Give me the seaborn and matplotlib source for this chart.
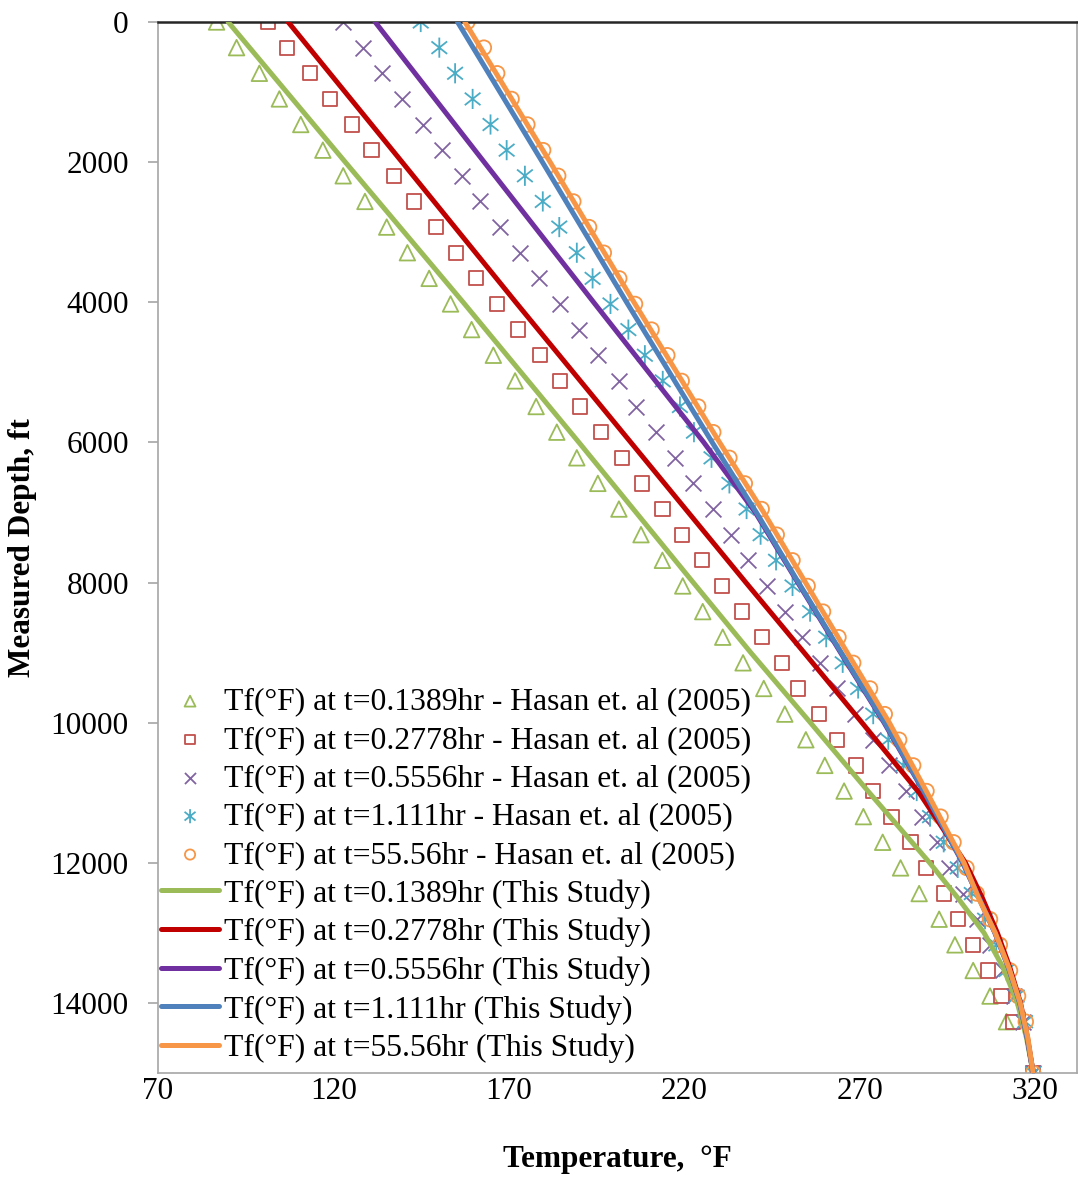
import numpy as np
import pandas as pd
import matplotlib
matplotlib.use("Agg")
import matplotlib.pyplot as plt
from matplotlib.path import Path
import seaborn as sns

# ---------------- data ----------------
depth_pts = [0, 366, 732, 1098, 1463, 1829, 2195, 2561, 2927, 3293, 3659, 4024, 4390, 4756,
             5122, 5488, 5854, 6220, 6585, 6951, 7317, 7683, 8049, 8415, 8780, 9146, 9512,
             9878, 10244, 10610, 10976, 11341, 11707, 12073, 12439, 12805, 13171, 13537,
             13902, 14268, 15000]

hasan_0139 = [86.7, 92.4, 98.9, 104.6, 110.7, 117.0, 122.8, 129.0, 135.2, 141.1, 147.3, 153.4,
              159.4, 165.6, 171.8, 177.8, 183.7, 189.4, 195.4, 201.4, 207.7, 213.8, 219.6,
              225.3, 231.0, 236.8, 242.7, 248.7, 254.7, 260.1, 265.6, 271.1, 276.6, 281.7,
              287.0, 292.7, 297.2, 302.4, 307.2, 311.9, 319.5]
hasan_0278 = [101.4, 106.8, 113.4, 119.1, 125.2, 130.9, 137.3, 143.0, 149.2, 155.0, 160.6,
              166.6, 172.7, 178.9, 184.6, 190.3, 196.4, 202.2, 207.9, 213.8, 219.3, 225.0,
              230.7, 236.4, 242.1, 247.8, 252.5, 258.5, 263.6, 269.0, 273.9, 279.1, 284.5,
              288.9, 294.1, 298.1, 302.4, 306.7, 310.5, 313.8, 319.5]
hasan_0556 = [122.8, 128.5, 134.0, 139.7, 145.5, 151.1, 156.6, 161.9, 167.5, 173.2, 178.7,
              184.6, 190.1, 195.5, 201.4, 206.4, 212.1, 217.4, 222.6, 228.1, 233.3, 238.3,
              243.5, 248.7, 253.5, 258.7, 263.6, 268.7, 273.7, 278.5, 283.2, 287.7, 292.0,
              295.6, 299.4, 303.4, 307.2, 310.8, 314.0, 316.7, 319.5]
hasan_1111 = [144.9, 150.2, 154.7, 159.7, 164.8, 169.4, 174.6, 179.7, 184.4, 189.4, 193.9,
              199.0, 204.1, 208.8, 213.9, 218.8, 222.8, 227.8, 232.9, 237.8, 241.8, 246.2,
              250.9, 255.9, 260.5, 265.2, 269.6, 273.9, 278.2, 282.5, 286.3, 290.1, 294.0,
              298.0, 302.0, 305.8, 309.0, 311.9, 314.8, 317.2, 319.5]
hasan_5556 = [158.2, 162.9, 166.7, 170.8, 175.3, 179.8, 184.1, 188.4, 192.9, 197.1, 201.5,
              206.0, 210.7, 215.2, 219.3, 224.0, 228.3, 232.9, 237.3, 242.1, 246.4, 250.9,
              255.2, 259.6, 264.0, 268.2, 273.0, 277.2, 281.3, 285.3, 289.1, 293.1, 296.8,
              300.5, 303.4, 307.2, 310.0, 312.9, 315.2, 317.4, 319.5]

depth_line = [0, 2000, 4000, 6000, 7000, 8000, 9000, 10000, 11000, 12000, 12500, 13000,
              13500, 14000, 14500, 15000]
study_0139 = [90.0, 123.4, 157.0, 190.0, 206.3, 222.6, 239.0, 256.0, 272.8, 290.0, 298.0,
              305.5, 311.0, 315.0, 317.6, 319.5]
study_0278 = [107.1, 139.6, 172.0, 204.8, 221.2, 237.6, 254.2, 270.7, 287.0, 300.2, 305.0,
              309.3, 312.9, 315.9, 317.9, 319.5]
study_0556 = [131.9, 163.0, 194.2, 225.6, 240.3, 252.4, 264.6, 277.0, 288.5, 299.4, 304.1,
              308.6, 312.5, 315.7, 317.8, 319.5]
study_1111 = [155.4, 179.6, 203.6, 228.0, 240.6, 252.6, 264.8, 277.2, 288.6, 299.5, 304.0,
              308.6, 312.5, 315.7, 317.8, 319.5]
study_5556 = [157.5, 181.8, 205.7, 230.1, 242.7, 254.6, 266.5, 278.5, 289.3, 299.8, 303.9,
              308.7, 312.6, 315.8, 318.0, 319.5]

hasan_labels = ["Tf(°F) at t=0.1389hr - Hasan et. al (2005)",
                "Tf(°F) at t=0.2778hr - Hasan et. al (2005)",
                "Tf(°F) at t=0.5556hr - Hasan et. al (2005)",
                "Tf(°F) at t=1.111hr - Hasan et. al (2005)",
                "Tf(°F) at t=55.56hr - Hasan et. al (2005)"]
study_labels = ["Tf(°F) at t=0.1389hr (This Study)",
                "Tf(°F) at t=0.2778hr (This Study)",
                "Tf(°F) at t=0.5556hr (This Study)",
                "Tf(°F) at t=1.111hr (This Study)",
                "Tf(°F) at t=55.56hr (This Study)"]
x_ticks = [70, 120, 170, 220, 270, 320]
y_ticks = [0, 2000, 4000, 6000, 8000, 10000, 12000, 14000]

# ---------------- style ----------------
sns.set_theme(style="white")
plt.rcParams["font.family"] = ["Liberation Serif", "DejaVu Serif"]
plt.rcParams["text.color"] = "black"
plt.rcParams["axes.labelcolor"] = "black"
plt.rcParams["xtick.color"] = "black"
plt.rcParams["ytick.color"] = "black"

marker_colors = ["#9BBB59", "#C0504D", "#8064A2", "#4BACC6", "#F79646"]
line_colors = ["#9BBB59", "#C00000", "#7030A0", "#4F81BD", "#F79646"]

asterisk = Path([(0, -1), (0, 1), (-0.78, -0.62), (0.78, 0.62), (-0.78, 0.62), (0.78, -0.62)],
                [Path.MOVETO, Path.LINETO, Path.MOVETO, Path.LINETO, Path.MOVETO, Path.LINETO])
markers = ["^", "s", "x", asterisk, "o"]
sizes = [125, 105, 130, 210, 110]

fig = plt.figure(figsize=(10.78, 11.78), dpi=100)
ax = fig.add_axes([158 / 1078, (1178 - 1073) / 1178, 919 / 1078, 1051 / 1178])

hasan_series = [hasan_0139, hasan_0278, hasan_0556, hasan_1111, hasan_5556]
study_series = [study_0139, study_0278, study_0556, study_1111, study_5556]

for vals, lab, col, mk, sz in zip(hasan_series, hasan_labels, marker_colors, markers, sizes):
    df = pd.DataFrame({"T": vals, "D": depth_pts})
    if isinstance(mk, str) and mk == "x":
        sns.scatterplot(data=df, x="T", y="D", marker=mk, s=sz, color=col,
                        linewidth=1.3, ax=ax, label=lab, zorder=2)
    else:
        sns.scatterplot(data=df, x="T", y="D", marker=mk, s=sz, color=col,
                        facecolor="none", edgecolor=col, linewidth=1.3, ax=ax,
                        label=lab, zorder=2)

for vals, lab, col in zip(study_series, study_labels, line_colors):
    df = pd.DataFrame({"T": vals, "D": depth_line})
    sns.lineplot(data=df, x="T", y="D", sort=False, estimator=None, color=col,
                 linewidth=3.6, ax=ax, label=lab, zorder=3)

ax.set_xlim(70, 332)
ax.set_ylim(15000, 0)
ax.set_xticks(x_ticks)
ax.set_yticks(y_ticks)
ax.set_xticklabels([str(v) for v in x_ticks])
ax.set_yticklabels([str(v) for v in y_ticks])

for side in ["left", "right", "bottom"]:
    ax.spines[side].set_color("#A6A6A6")
    ax.spines[side].set_linewidth(1.2)
ax.spines["top"].set_color("#262626")
ax.spines["top"].set_linewidth(1.8)

ax.tick_params(axis="y", direction="out", length=7, width=1.2, color="#A6A6A6",
               labelcolor="black", labelsize=22.5, pad=14, left=True)
ax.tick_params(axis="x", direction="out", length=0, labelcolor="black",
               labelsize=22.5, pad=3, bottom=True)

ax.set_xlabel("Temperature,  °F", fontsize=22.5, fontweight="bold", labelpad=28,
              color="black")
ax.set_ylabel("Measured Depth, ft", fontsize=22.5, fontweight="bold", labelpad=10,
              color="black")
ax.grid(False)

h, l = ax.get_legend_handles_labels()
order = hasan_labels + study_labels
hl = dict(zip(l, h))
leg = ax.legend([hl[k] for k in order], order, loc="upper left",
                bbox_to_anchor=(0.003, 0.367), frameon=False, fontsize=22.8,
                markerscale=0.7, handlelength=1.85, handletextpad=0.15,
                labelspacing=0.29, borderpad=0, borderaxespad=0)
for t in leg.get_texts():
    t.set_color("black")

fig.savefig("out.png", dpi=100)
